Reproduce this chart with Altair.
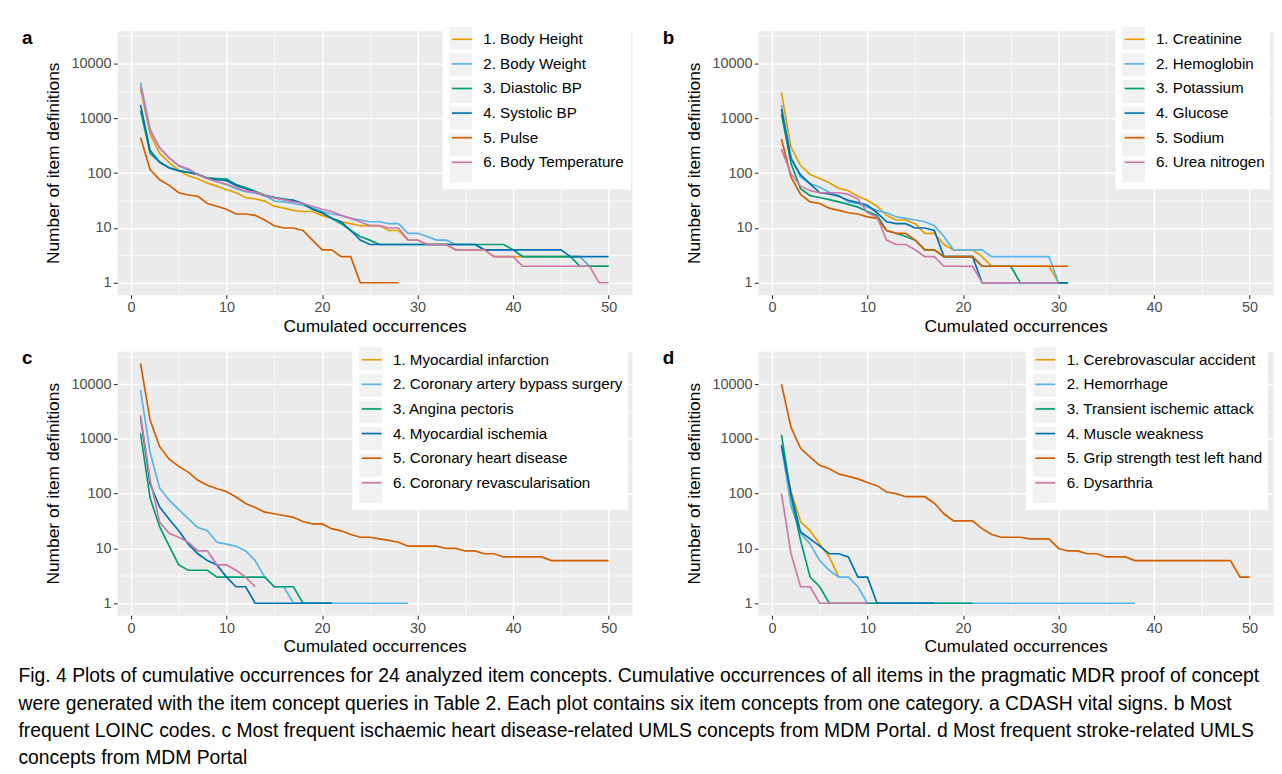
import altair as alt
import pandas as pd

# ---------------- data ----------------
A_NAMES = ["1. Body Height", "2. Body Weight", "3. Diastolic BP", "4. Systolic BP",
           "5. Pulse", "6. Body Temperature"]
A1 = [3500, 520, 230, 158, 112, 90, 79, 66, 58, 50, 44, 36, 34, 31, 25, 23, 21, 20, 20, 17,
      15, 13, 12, 11, 11, 11, 9, 9, 6, 6, 5, 5, 5, 4, 4, 4, 4, 3, 3, 3, 3, 3, 3, 3, 3, 3, 3, 2, 2, 2]
A2 = [4500, 640, 290, 190, 135, 115, 95, 80, 70, 62, 52, 46, 43, 40, 31, 30, 28, 26, 23, 20,
      18, 17, 15, 14, 13, 13, 12, 12, 8, 8, 7, 6, 6, 5, 5, 5, 4, 4, 4, 4, 3, 3, 3, 3, 3, 3, 3, 2, 2, 2]
A3 = [1400, 230, 160, 125, 110, 103, 95, 82, 80, 78, 62, 55, 47, 40, 36, 34, 32, 28, 22, 19,
      15, 12, 9, 7, 6, 5, 5, 5, 5, 5, 5, 5, 5, 5, 5, 5, 5, 5, 5, 4, 3, 3, 3, 3, 3, 3, 2, 2, 2, 2]
A4 = [1770, 260, 158, 126, 112, 104, 95, 80, 76, 73, 60, 52, 45, 39, 36, 33, 32, 28, 22, 19,
      15, 13, 9, 6, 5, 5, 5, 5, 5, 5, 5, 5, 5, 5, 5, 5, 4, 4, 4, 4, 4, 4, 4, 4, 4, 3, 3, 3, 3, 3]
A5 = [450, 117, 76, 60, 44, 40, 38, 28, 25, 22, 18, 18, 17, 14, 11, 10, 10, 9, 6, 4,
      4, 3, 3, 1, 1, 1, 1, 1]
A6 = [3800, 600, 290, 190, 138, 120, 95, 80, 70, 63, 55, 47, 45, 40, 35, 33, 30, 28, 25, 22,
      20, 17, 15, 13, 11, 11, 10, 10, 6, 6, 5, 5, 5, 4, 4, 4, 4, 3, 3, 3, 2, 2, 2, 2, 2, 2, 2, 2, 1, 1]

B_NAMES = ["1. Creatinine", "2. Hemoglobin", "3. Potassium", "4. Glucose", "5. Sodium",
           "6. Urea nitrogen"]
B1 = [2960, 297, 138, 95, 80, 67, 53, 48, 38, 32, 25, 17, 14, 14, 12, 8, 8, 5, 4, 4,
      4, 3, 2, 2, 2, 2, 2, 2, 2, 1, 1]
B2 = [1770, 195, 85, 64, 56, 45, 39, 30, 28, 24, 21, 19, 16, 15, 14, 13, 11, 7, 4, 4,
      4, 4, 3, 3, 3, 3, 3, 3, 3, 1, 1]
B3 = [1200, 150, 52, 39, 36, 33, 30, 27, 24, 20, 17, 9, 8, 7, 6, 4, 4, 3, 3, 3,
      3, 2, 2, 2, 2, 1, 1, 1, 1, 1, 1]
B4 = [1480, 182, 93, 64, 44, 42, 38, 32, 29, 26, 19, 13, 12, 12, 10, 10, 9, 3, 3, 3,
      3, 1, 1, 1, 1, 1, 1, 1, 1, 1, 1]
B5 = [420, 85, 41, 30, 28, 23, 21, 19, 18, 16, 15, 9, 8, 8, 6, 4, 4, 3, 3, 3,
      3, 2, 2, 2, 2, 2, 2, 2, 2, 2, 2]
B6 = [275, 97, 58, 48, 44, 44, 44, 41, 34, 19, 16, 6, 5, 5, 4, 3, 3, 2, 2, 2,
      2, 1, 1, 1, 1, 1, 1, 1, 1, 1]

C_NAMES = ["1. Myocardial infarction", "2. Coronary artery bypass surgery", "3. Angina pectoris",
           "4. Myocardial ischemia", "5. Coronary heart disease", "6. Coronary revascularisation"]
C1 = []
C2 = [7800, 570, 126, 76, 51, 35, 24, 21, 13, 12, 11, 9, 6, 3, 2, 2, 1, 1, 1, 1,
      1, 1, 1, 1, 1, 1, 1, 1, 1]
C3 = [1260, 83, 25, 11, 5, 4, 4, 4, 3, 3, 3, 3, 3, 3, 2, 2, 2, 1, 1, 1, 1]
C4 = [2500, 150, 57, 34, 21, 12, 8, 6, 5, 3, 2, 2, 1, 1, 1, 1, 1, 1, 1, 1, 1]
C5 = [24000, 2200, 720, 425, 315, 248, 175, 143, 123, 110, 87, 66, 56, 46, 43, 40, 37, 31, 28, 28,
      23, 21, 18, 16, 16, 15, 14, 13, 11, 11, 11, 11, 10, 10, 9, 9, 8, 8, 7, 7,
      7, 7, 7, 6, 6, 6, 6, 6, 6, 6]
C6 = [2700, 180, 30, 19, 16, 13, 9, 9, 5, 5, 4, 3, 2]

D_NAMES = ["1. Cerebrovascular accident", "2. Hemorrhage", "3. Transient ischemic attack",
           "4. Muscle weakness", "5. Grip strength test left hand", "6. Dysarthria"]
D1 = [800, 110, 31, 21, 12, 7, 3]
D2 = [750, 59, 19, 12, 6, 4, 3, 3, 2, 1, 1, 1, 1, 1, 1, 1, 1, 1, 1, 1,
      1, 1, 1, 1, 1, 1, 1, 1, 1, 1, 1, 1, 1, 1, 1, 1, 1, 1]
D3 = [1200, 90, 14, 3, 2, 1, 1, 1, 1, 1, 1, 1, 1, 1, 1, 1, 1, 1, 1, 1, 1]
D4 = [750, 100, 20, 15, 11, 8, 8, 7, 3, 3, 1, 1, 1, 1, 1, 1, 1]
D5 = [10000, 1620, 675, 465, 330, 285, 228, 207, 186, 160, 140, 107, 100, 88, 88, 88, 67, 43, 32, 32,
      32, 23, 18, 16, 16, 16, 15, 15, 15, 10, 9, 9, 8, 8, 7, 7, 7, 6, 6, 6,
      6, 6, 6, 6, 6, 6, 6, 6, 3, 3]
D6 = [100, 8, 2, 2, 1, 1, 1, 1, 1, 1]

COLORS = ["#E69F00", "#56B4E9", "#009E73", "#0072B2", "#D55E00", "#CC79A7"]
X_TICKS = [0, 5, 10, 15, 20, 25, 30, 35, 40, 45, 50]
Y_TICKS = [1, 3.1623, 10, 31.623, 100, 316.23, 1000, 3162.3, 10000, 31623]

CAPTION = [
    "Fig. 4  Plots of cumulative occurrences for 24 analyzed item concepts. Cumulative occurrences of all items in the pragmatic MDR proof of concept",
    "were generated with the item concept queries in Table 2. Each plot contains six item concepts from one category. a CDASH vital signs. b Most",
    "frequent LOINC codes. c Most frequent ischaemic heart disease-related UMLS concepts from MDM Portal. d Most frequent stroke-related UMLS",
    "concepts from MDM Portal",
]

FONT = "Liberation Sans"
PW, PH = 519, 266
LEG_FS = 15.3
LEG_OFF = 9

# Arial / Liberation Sans advance widths (per 1000 em), used to size the key-background box
_W = {" ": 278, ".": 278}
_W.update({d: 556 for d in "0123456789"})
_W.update(dict(zip("ABCDEFGHIJKLMNOPQRSTUVWXYZ",
                   [667, 667, 722, 722, 667, 611, 778, 722, 278, 500, 667, 556, 833,
                    722, 778, 667, 778, 722, 667, 611, 722, 667, 944, 667, 667, 611])))
_W.update(dict(zip("abcdefghijklmnopqrstuvwxyz",
                   [556, 556, 500, 556, 556, 278, 556, 556, 222, 222, 500, 222, 833,
                    556, 556, 556, 556, 333, 500, 278, 556, 500, 722, 500, 500, 500])))


def text_width(s, size):
    return sum(_W.get(ch, 556) for ch in s) / 1000.0 * size


MAJOR_X = "datum.value % 10 == 0"
MAJOR_Y = "abs(log(datum.value)/LN10 - round(log(datum.value)/LN10)) < 0.01"


def panel(letter, names, series, legend_x):
    bg_names = [n + "\u200b" for n in names]
    rows = []
    for name, bgn, vals in zip(names, bg_names, series):
        for i, v in enumerate(vals):
            rows.append({"series": name, "bg": bgn, "x": i + 1, "y": v})
    df = pd.DataFrame(rows, columns=["series", "bg", "x", "y"])

    x_enc = alt.X(
        "x:Q", title="Cumulated occurrences",
        scale=alt.Scale(domain=[-1.45, 52.45], nice=False, zero=False),
        axis=alt.Axis(
            values=X_TICKS, labelExpr=f"{MAJOR_X} ? datum.label : ''",
            grid=True, gridColor="white",
            gridWidth={"condition": {"test": MAJOR_X, "value": 1.4}, "value": 0.7},
            tickColor={"condition": {"test": MAJOR_X, "value": "#333333"}, "value": "transparent"},
            tickSize=3.7, tickWidth=1.1, domain=False, labelFlush=False, labelOverlap=False,
            labelFontSize=14.5, labelColor="#4D4D4D", labelPadding=2.5, labelFont=FONT,
            titleFontSize=17.5, titleColor="black", titleFontWeight="normal", titleFont=FONT,
            titlePadding=3,
        ),
    )
    y_enc = alt.Y(
        "y:Q", title="Number of item definitions",
        scale=alt.Scale(type="log", domain=[0.604, 39720], nice=False),
        axis=alt.Axis(
            values=Y_TICKS, labelExpr=f"({MAJOR_Y}) ? format(datum.value, 'd') : ''",
            grid=True, gridColor="white",
            gridWidth={"condition": {"test": MAJOR_Y, "value": 1.4}, "value": 0.7},
            tickColor={"condition": {"test": MAJOR_Y, "value": "#333333"}, "value": "transparent"},
            tickSize=3.7, tickWidth=1.1, domain=False, labelOverlap=False, labelFlush=False,
            labelFontSize=14.5, labelColor="#4D4D4D", labelPadding=2.5, labelFont=FONT,
            titleFontSize=17.5, titleColor="black", titleFontWeight="normal", titleFont=FONT,
            titlePadding=8, minExtent=47, maxExtent=47,
        ),
    )

    base = alt.Chart(df)

    legend_common = dict(
        orient="none", legendX=legend_x, legendY=-11, padding=7,
        symbolSize=529, labelFontSize=LEG_FS, labelFont=FONT,
        rowPadding=3.8, labelLimit=400,
    )
    max_label = max(text_width(n, LEG_FS) for n in names)

    bg = base.transform_filter("datum.x < 0").mark_square(size=10, opacity=1).encode(
        x=x_enc, y=y_enc,
        color=alt.Color(
            "bg:N", title=None,
            scale=alt.Scale(domain=bg_names, range=["#F2F2F2"] * len(names)),
            legend=alt.Legend(symbolType="square", symbolStrokeWidth=0, symbolOpacity=1,
                              fillColor="white", labelExpr="''",
                              labelOffset=round(LEG_OFF + max_label, 1),
                              zindex=1, **legend_common),
        ),
    )

    lines = []
    for name in names:
        lines.append(
            base.transform_filter(alt.datum.series == name)
            .mark_line(strokeWidth=1.7)
            .encode(
                x=x_enc, y=y_enc,
                stroke=alt.Stroke(
                    "series:N", title=None,
                    scale=alt.Scale(domain=names, range=COLORS),
                    legend=alt.Legend(symbolType="M-0.87,0H0.87", symbolStrokeWidth=1.7,
                                      symbolFillColor="transparent", labelColor="black",
                                      labelOffset=LEG_OFF, zindex=2, **legend_common),
                ),
            )
        )

    return alt.layer(bg, *lines).properties(
        width=PW, height=PH,
        title=alt.TitleParams(text=letter, anchor="start", fontSize=19, fontWeight="bold",
                              font=FONT, color="black", dx=-23, offset=-28,
                              baseline="top"),
    )


pa = panel("a", A_NAMES, [A1, A2, A3, A4, A5, A6], 328)
pb = panel("b", B_NAMES, [B1, B2, B3, B4, B5, B6], 360)
pc = panel("c", C_NAMES, [C1, C2, C3, C4, C5, C6], 237)
pd_ = panel("d", D_NAMES, [D1, D2, D3, D4, D5, D6], 270)

row1 = alt.hconcat(pa, pb, spacing=29).resolve_scale(color="independent", stroke="independent")
row2 = alt.hconcat(pc, pd_, spacing=29).resolve_scale(color="independent", stroke="independent")

chart = (
    alt.vconcat(row1, row2, spacing=4)
    .resolve_scale(color="independent", stroke="independent")
    .properties(
        padding={"left": 10, "top": 8, "right": 0, "bottom": 2},
        title=alt.TitleParams(text=CAPTION, orient="bottom", anchor="start", fontSize=19.5,
                              font=FONT, fontWeight="normal", color="black", lineHeight=27.5,
                              offset=12, dx=-3),
    )
    .configure(font=FONT)
    .configure_view(fill="#EBEBEB", stroke="transparent")
)

chart.save("out.html", embed_options={"renderer": "svg", "actions": False})
